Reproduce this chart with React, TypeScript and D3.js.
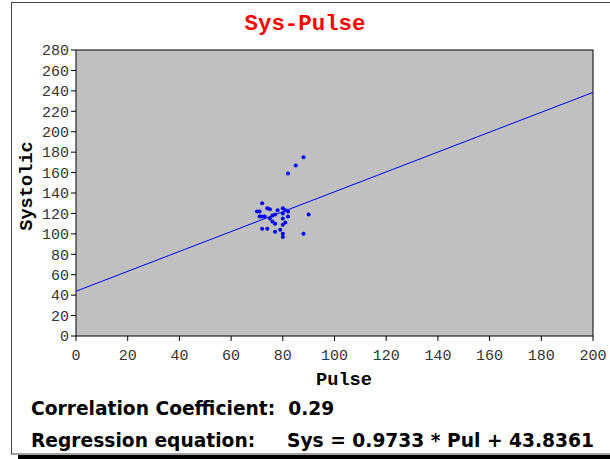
import React from "react";
import * as d3 from "d3";

const pulse = [88, 85, 82, 72, 70, 71, 74, 75, 78, 80, 81, 82, 80, 77, 76, 82, 71, 72, 73, 75, 80, 90, 76, 77, 81, 80, 72, 74, 79, 77, 80, 80, 88];
const systolic = [175, 167, 159, 130, 122, 122, 125, 124, 123, 125, 123, 122, 120, 119, 118, 117, 117, 117, 117, 115, 115, 119, 112, 110, 111, 109, 105, 105, 104, 102, 100, 97, 100];
const slope = 0.9733;
const intercept = 43.8361;
const xTicks = [0, 20, 40, 60, 80, 100, 120, 140, 160, 180, 200];
const yTicks = [0, 20, 40, 60, 80, 100, 120, 140, 160, 180, 200, 220, 240, 260, 280];
const title = "Sys-Pulse";
const xTitle = "Pulse";
const yTitle = "Systolic";
const corrText = "Correlation Coefficient:  0.29";
const regLabel = "Regression equation:";
const regText = "Sys = 0.9733 * Pul + 43.8361";

export default function App() {
  const W = 610, H = 459;
  const left = 76, right = 593, top = 50, bottom = 336;
  const x = d3.scaleLinear().domain([0, 200]).range([left, right]);
  const y = d3.scaleLinear().domain([0, 280]).range([bottom, top]);
  const line = d3.line<number>().x((d) => x(d)).y((d) => y(slope * d + intercept));
  const mono = "'Liberation Mono', 'Courier New', monospace";
  const sans = "'DejaVu Sans', Verdana, sans-serif";
  return (
    <svg width={W} height={H} style={{ position: "absolute", left: 0, top: 0, background: "#fff" }}>
      <rect x={18} y={455} width={600} height={4} fill="#000" />
      <rect x={11.5} y={2.5} width={620} height={451.5} fill="#fff" stroke="#444" strokeWidth={1} />
      <text x={305} y={30} textAnchor="middle" fill="#ff0000" fontFamily={mono} fontWeight="bold" fontSize={22.4}>{title}</text>
      <rect x={left} y={top} width={right - left} height={bottom - top} fill="#c0c0c0" stroke="#000" strokeWidth={1} />
      <path d={line([0, 200]) || ""} fill="none" stroke="#0000ff" strokeWidth={1} />
      {pulse.map((p, i) => (
        <circle key={i} cx={x(p)} cy={y(systolic[i])} r={2} fill="#0000ff" />
      ))}
      {yTicks.map((t) => (
        <g key={"y" + t}>
          <line x1={left - 5} x2={left} y1={y(t)} y2={y(t)} stroke="#000" />
          <text x={left - 7} y={y(t)} dy="0.35em" textAnchor="end" fontFamily={mono} fontSize={15} fill="#333">{t}</text>
        </g>
      ))}
      {xTicks.map((t) => (
        <g key={"x" + t}>
          <line x1={x(t)} x2={x(t)} y1={bottom} y2={bottom + 5} stroke="#000" />
          <text x={x(t)} y={bottom + 24} textAnchor="middle" fontFamily={mono} fontSize={15} fill="#333">{t}</text>
        </g>
      ))}
      <text x={344} y={385} textAnchor="middle" fontFamily={mono} fontWeight="bold" fontSize={18.67} fill="#000">{xTitle}</text>
      <text transform={`translate(32,186) rotate(-90)`} textAnchor="middle" fontFamily={mono} fontWeight="bold" fontSize={18.67} fill="#000">{yTitle}</text>
      <text x={31} y={415} fontFamily={sans} fontWeight="bold" fontSize={18.67} fill="#000" style={{ whiteSpace: "pre" }}>{corrText}</text>
      <text x={31} y={447} fontFamily={sans} fontWeight="bold" fontSize={18.67} fill="#000">{regLabel}</text>
      <text x={287} y={447} fontFamily={sans} fontWeight="bold" fontSize={18.67} fill="#000">{regText}</text>
    </svg>
  );
}
